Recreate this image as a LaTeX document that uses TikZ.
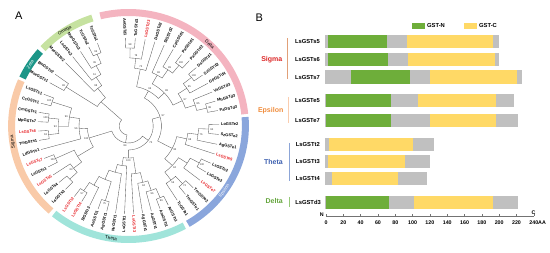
\documentclass[tikz,border=0pt]{standalone}
\usepackage{fontspec}
\setmainfont{Liberation Sans}
\definecolor{lsred}{RGB}{230,30,35}
\definecolor{cOmega}{RGB}{198,226,160}
\definecolor{cZeta}{RGB}{28,150,136}
\definecolor{cSigma}{RGB}{249,202,168}
\definecolor{cTheta}{RGB}{160,228,218}
\definecolor{cEps}{RGB}{138,166,220}
\definecolor{cDelta}{RGB}{244,180,192}
\definecolor{bGreen}{RGB}{110,174,58}
\definecolor{bYellow}{RGB}{255,217,102}
\definecolor{bGray}{RGB}{192,192,192}
\definecolor{gSigma}{RGB}{220,40,40}
\definecolor{gEps}{RGB}{240,140,60}
\definecolor{gTheta}{RGB}{60,95,175}
\definecolor{gDelta}{RGB}{100,165,60}
\definecolor{kSigma}{RGB}{225,160,120}
\definecolor{kEps}{RGB}{250,205,175}
\definecolor{kTheta}{RGB}{140,165,215}
\definecolor{kDelta}{RGB}{150,200,120}
\tikzset{
 br/.style={draw=black!65,line width=0.35pt},
 leaf/.style={font=\bfseries\fontsize{4}{4.5}\selectfont,inner sep=0.2pt},
 bs/.style={font=\fontsize{2.6}{3}\selectfont,inner sep=0pt,text=black!80},
 band/.style={line width=7pt,line cap=butt},
 bandlab/.style={font=\fontsize{4.6}{5}\selectfont,inner sep=0pt},
 barlab/.style={font=\bfseries\fontsize{5.8}{6}\selectfont,anchor=east,inner sep=0pt},
 grplab/.style={font=\bfseries\fontsize{7}{7}\selectfont,anchor=east,inner sep=0pt},
 ticklab/.style={font=\bfseries\fontsize{5.3}{5.5}\selectfont,inner sep=0pt},
 panel/.style={font=\fontsize{11}{11}\selectfont,inner sep=0pt},
 legtxt/.style={font=\bfseries\fontsize{5.8}{6}\selectfont,anchor=west,inner sep=0pt},
}
% internal node: child1 angle, child1 radius, child2 angle, child2 radius, node radius
\newcommand\nd[5]{\draw[br] (#1:#2) -- (#1:#5) -- plot[domain=#1:#3,samples=12] (\x:#5) -- (#3:#4);}
\newcommand\lfR[4]{\node[leaf,anchor=west,rotate={-(#2)},text=#4] (#1) at (#2:89.5) {#3};}
\newcommand\lfL[4]{\node[leaf,anchor=east,rotate={180-(#2)},text=#4] (#1) at (#2:89.5) {#3};}
\newcommand\bsv[4]{\node[bs] (#1) at (#2:#3) {#4};}
\begin{document}
\begin{tikzpicture}[x=1pt,y=-1pt]
\useasboundingbox (0,0) rectangle (550,253);
\node[panel] (pA) at (18.8,15.8) {A};
\node[panel] (pB) at (259.3,17.8) {B};
\begin{scope}[shift={(128.5,126)},xscale=1.03]
% bands
\draw[band,cDelta] plot[domain=-104:-6,samples=60] (\x:113.5);
\draw[band,cEps] plot[domain=-4.5:59.5,samples=40] (\x:113.5);
\draw[band,cTheta] plot[domain=61.5:129.5,samples=40] (\x:113.5);
\draw[band,cSigma] plot[domain=131.5:203.5,samples=40] (\x:113.5);
\draw[band,cZeta] plot[domain=205:221,samples=15] (\x:113.5);
\draw[band,cOmega] plot[domain=223:252,samples=20] (\x:113.5);
\node[bandlab,rotate=-44] (bD) at (-46:113.5) {Delta};
\node[bandlab,rotate=55,text=white] (bE) at (35:113.5) {Epsilon};
\node[bandlab,rotate=-8.6] (bT) at (98.6:113.5) {Theta};
\node[bandlab,rotate=98] (bS) at (172:113.5) {Sigma};
\node[bandlab,rotate=57.25,text=white] (bZ) at (212.75:113.5) {Zeta};
\node[bandlab,rotate=33] (bO) at (237:113.5) {Omega};
% Delta clade
\nd{-92}{88}{-85.7}{88}{78}
\nd{-88.85}{78}{-79.4}{88}{68}
\nd{-84.125}{68}{-73.1}{88}{58}
\nd{-54.2}{88}{-47.9}{88}{78}
\nd{-60.5}{88}{-51.05}{78}{68}
\nd{-66.8}{88}{-55.775}{68}{58}
\nd{-41.6}{88}{-35.3}{88}{78}
\nd{-38.45}{78}{-29}{88}{68}
\nd{-16.4}{88}{-10.1}{88}{78}
\nd{-22.7}{88}{-13.25}{78}{68}
\nd{-33.725}{68}{-17.975}{68}{58}
\nd{-61.29}{58}{-25.85}{58}{48}
\nd{-78.61}{58}{-43.57}{48}{40}
% Epsilon clade
\nd{-1}{88}{5.5}{88}{78}
\nd{2.25}{78}{12}{88}{68}
\nd{7.125}{68}{18.5}{88}{58}
\nd{25}{88}{31.5}{88}{78}
\nd{28.25}{78}{38}{88}{68}
\nd{44.5}{88}{51}{88}{78}
\nd{47.75}{78}{57.5}{88}{68}
\nd{33.125}{68}{52.625}{68}{58}
\nd{12.81}{58}{42.875}{58}{48}
% Theta clade
\nd{64}{88}{69.7}{88}{78}
\nd{66.85}{78}{75.4}{88}{68}
\nd{71.125}{68}{81.1}{88}{58}
\nd{76.11}{58}{86.8}{88}{48}
\nd{121}{88}{126.7}{88}{78}
\nd{115.3}{88}{123.85}{78}{68}
\nd{103.9}{88}{109.6}{88}{78}
\nd{106.75}{78}{119.575}{68}{58}
\nd{98.2}{88}{113.16}{58}{48}
\nd{92.5}{88}{105.68}{48}{40}
\nd{81.46}{48}{99.09}{40}{32}
% Sigma clade
\nd{134}{88}{140.1}{88}{78}
\nd{137.05}{78}{146.2}{88}{68}
\nd{152.3}{88}{158.4}{88}{78}
\nd{141.625}{68}{155.35}{78}{58}
\nd{170.6}{88}{176.7}{88}{78}
\nd{182.8}{88}{188.9}{88}{78}
\nd{173.65}{78}{185.85}{78}{68}
\nd{195}{88}{201.1}{88}{78}
\nd{179.75}{68}{198.05}{78}{58}
\nd{164.5}{88}{188.9}{58}{48}
\nd{148.49}{58}{176.7}{48}{40}
% Zeta and Omega
\nd{209.5}{88}{216}{88}{72}
\nd{244}{88}{250}{88}{78}
\nd{238}{88}{247}{78}{68}
\nd{232}{88}{242.5}{68}{58}
\nd{226}{88}{237.25}{58}{48}
\nd{212.75}{72}{231.625}{48}{36}
% backbone
\nd{-61.09}{40}{27.84}{48}{32}
\nd{-16.625}{32}{90.275}{32}{24}
\nd{36.825}{24}{162.6}{40}{17}
\nd{99.71}{17}{222.19}{36}{9}
% bootstrap values
\bsv{b1}{-88.85}{81}{98}
\bsv{b2}{-84.125}{71}{78}
\bsv{b3}{-78.61}{61}{73}
\bsv{b4}{-51.05}{81}{100}
\bsv{b5}{-55.775}{71}{99}
\bsv{b6}{-61.29}{61}{96}
\bsv{b7}{-38.45}{81}{100}
\bsv{b8}{-33.725}{71}{95}
\bsv{b9}{-13.25}{81}{98}
\bsv{b10}{-17.975}{71}{85}
\bsv{b11}{-25.85}{61}{97}
\bsv{b12}{-43.57}{51}{98}
\bsv{b13}{-61.09}{43}{96}
\bsv{b14}{2.25}{81}{94}
\bsv{b15}{7.125}{71}{76}
\bsv{b16}{12.81}{61}{68}
\bsv{b17}{28.25}{81}{100}
\bsv{b18}{47.75}{81}{73}
\bsv{b19}{52.625}{71}{56}
\bsv{b20}{42.875}{61}{94}
\bsv{b21}{27.84}{51}{83}
\bsv{b22}{66.85}{81}{96}
\bsv{b23}{71.125}{71}{96}
\bsv{b24}{76.11}{61}{94}
\bsv{b25}{123.85}{81}{57}
\bsv{b26}{106.75}{81}{75}
\bsv{b27}{90.275}{35}{100}
\bsv{b28}{141.625}{71}{63}
\bsv{b29}{155.35}{81}{100}
\bsv{b30}{173.65}{81}{63}
\bsv{b31}{185.85}{81}{100}
\bsv{b32}{179.75}{71}{93}
\bsv{b33}{198.05}{81}{100}
\bsv{b34}{188.9}{61}{96}
\bsv{b35}{176.7}{51}{56}
\bsv{b36}{162.6}{43}{100}
\bsv{b37}{212.75}{75}{96}
\bsv{b38}{247}{81}{96}
\bsv{b39}{242.5}{71}{65}
\bsv{b40}{237.25}{61}{61}
\bsv{b41}{231.625}{51}{98}
\bsv{b42}{-16.625}{35}{97}
\bsv{b43}{36.825}{27}{75}
\bsv{b44}{99.71}{20}{84}
% leaves
\lfL{L1}{-92}{AeGSTd1}{black}
\lfR{L2}{-85.7}{TcGSTd1}{black}
\lfR{L3}{-79.4}{LsGSTd3}{lsred}
\lfR{L4}{-73.1}{DaGSTd2}{black}
\lfR{L5}{-66.8}{SlGSTd2}{black}
\lfR{L6}{-60.5}{CpGSTd1}{black}
\lfR{L7}{-54.2}{PaGSTd1}{black}
\lfR{L8}{-47.9}{PaGSTd2}{black}
\lfR{L9}{-41.6}{DaGSTd1}{black}
\lfR{L10}{-35.3}{SzGSTd2}{black}
\lfR{L11}{-29}{GpGSTd4}{black}
\lfR{L12}{-22.7}{VaGSTd3}{black}
\lfR{L13}{-16.4}{MhGSTd3}{black}
\lfR{L14}{-10.1}{PaGSTd3}{black}
\lfR{L15}{-1}{LoGSTe2}{black}
\lfR{L16}{5.5}{SzGSTe2}{black}
\lfR{L17}{12}{AgGSTe1}{black}
\lfR{L18}{18.5}{LsGSTe5}{lsred}
\lfR{L19}{25}{LsGSTe2}{black}
\lfR{L20}{31.5}{LsGSTe3}{black}
\lfR{L21}{38}{LsGSTe7}{lsred}
\lfR{L22}{44.5}{TmGSTe2}{black}
\lfR{L23}{51}{TmGSTe1}{black}
\lfR{L24}{57.5}{TcGSTe1}{black}
\lfR{L25}{64}{AeGSTt1}{black}
\lfR{L26}{69.7}{AmGSTt1}{black}
\lfR{L27}{75.4}{AaGSTt1}{black}
\lfR{L28}{81.1}{AgGSTt1}{black}
\lfR{L29}{86.8}{LsGSTt3}{lsred}
\lfL{L30}{92.5}{LsGSTt1}{black}
\lfL{L31}{98.2}{NvGSTt1}{black}
\lfL{L32}{103.9}{AgGSTt1}{black}
\lfL{L33}{109.6}{AeGSTt1}{black}
\lfL{L34}{115.3}{SlGSTt3}{black}
\lfL{L35}{121}{LsGSTt4}{lsred}
\lfL{L36}{126.7}{LsGSTt2}{lsred}
\lfL{L37}{134}{LsGSTs3}{black}
\lfL{L38}{140.1}{LsGSTs4}{black}
\lfL{L39}{146.2}{LsGSTs5}{lsred}
\lfL{L40}{152.3}{LsGSTs1}{black}
\lfL{L41}{158.4}{LsGSTs7}{lsred}
\lfL{L42}{164.5}{LdGSTs1}{black}
\lfL{L43}{170.6}{TmGSTs1}{black}
\lfL{L44}{176.7}{LsGSTs6}{lsred}
\lfL{L45}{182.8}{MpGSTs7}{black}
\lfL{L46}{188.9}{CmGSTs1}{black}
\lfL{L47}{195}{CcGSTs1}{black}
\lfL{L48}{201.1}{LsGSTs1}{black}
\lfL{L49}{209.5}{MseGSTz1}{black}
\lfL{L50}{216}{BmGSTz2}{black}
\lfL{L51}{226}{MseGSTo2}{black}
\lfL{L52}{232}{LsGSTo2}{black}
\lfL{L53}{238}{MseGSTo3}{black}
\lfL{L54}{244}{TcGSTo2}{black}
\lfL{L55}{250}{TcGSTo1}{black}
\end{scope}
% ---------- panel B ----------
\fill[bGreen] (412,23) rectangle (425,29);
\node[legtxt] (lgN) at (427,26) {GST-N};
\fill[bYellow] (464,23) rectangle (477,29);
\node[legtxt] (lgC) at (479,26) {GST-C};
% Sigma
\fill[bGray] (325,35) rectangle (499,48);
\fill[bGreen] (328,35) rectangle (387,48);
\fill[bYellow] (407,35) rectangle (493,48);
\fill[bGray] (325,53) rectangle (499,66.5);
\fill[bGreen] (328,53) rectangle (388,66.5);
\fill[bYellow] (408,53) rectangle (495,66.5);
\fill[bGray] (325,70.5) rectangle (522,84);
\fill[bGreen] (351,70.5) rectangle (410,84);
\fill[bYellow] (430,70.5) rectangle (517,84);
% Epsilon
\fill[bGray] (325,94) rectangle (514,107);
\fill[bGreen] (325.5,94) rectangle (391,107);
\fill[bYellow] (418,94) rectangle (496,107);
\fill[bGray] (325,114) rectangle (518,127);
\fill[bGreen] (325.5,114) rectangle (391,127);
\fill[bYellow] (430,114) rectangle (495.5,127);
% Theta
\fill[bGray] (325,138) rectangle (434,151.5);
\fill[bYellow] (329,138) rectangle (413,151.5);
\fill[bGray] (325,155) rectangle (430,168.5);
\fill[bYellow] (327.5,155) rectangle (405,168.5);
\fill[bGray] (325,172) rectangle (427,185.5);
\fill[bYellow] (332,172) rectangle (398,185.5);
% Delta
\fill[bGray] (325,196) rectangle (518,209);
\fill[bGreen] (326,196) rectangle (389,209);
\fill[bYellow] (414,196) rectangle (493,209);
% bar labels
\node[barlab] (r1) at (320,41.5) {LsGSTs5};
\node[barlab] (r2) at (320,59.7) {LsGSTs6};
\node[barlab] (r3) at (320,77.2) {LsGSTs7};
\node[barlab] (r4) at (320,100.5) {LsGSTe5};
\node[barlab] (r5) at (320,120.5) {LsGSTe7};
\node[barlab] (r6) at (320,144.7) {LsGSTt2};
\node[barlab] (r7) at (320,161.7) {LsGSTt3};
\node[barlab] (r8) at (320,178.7) {LsGSTt4};
\node[barlab] (r9) at (321,202.5) {LsGSTd3};
% group brackets and names
\draw[kSigma,line width=1pt] (287.5,38) -- (287.5,79);
\draw[kEps,line width=1pt] (288.5,97) -- (288.5,123);
\draw[kTheta,line width=1pt] (289,143) -- (289,181);
\draw[kDelta,line width=1pt] (289,197) -- (289,207);
\node[grplab,text=gSigma] (gS) at (282.5,60) {Sigma};
\node[grplab,text=gEps] (gE) at (283.5,110.5) {Epsilon};
\node[grplab,text=gTheta] (gT) at (283,161.7) {Theta};
\node[grplab,text=gDelta] (gD) at (283,201.5) {Delta};
% axis
\draw[black!55,line width=0.6pt] (326,216) -- (534,216);
\foreach \v in {0,20,...,240} \draw[black!55,line width=0.5pt] ({326+0.866*\v},216) -- ++(0,-2);
\foreach \v in {0,20,...,220} \node[ticklab] (t\v) at ({326+0.866*\v},222.6) {\v};
\node[ticklab,anchor=west] (t240) at (529.2,222.6) {240AA};
\node[ticklab] (axN) at (321.7,215) {N};
\node[ticklab] (axC) at (533.5,212.5) {C};
\end{tikzpicture}
\end{document}
